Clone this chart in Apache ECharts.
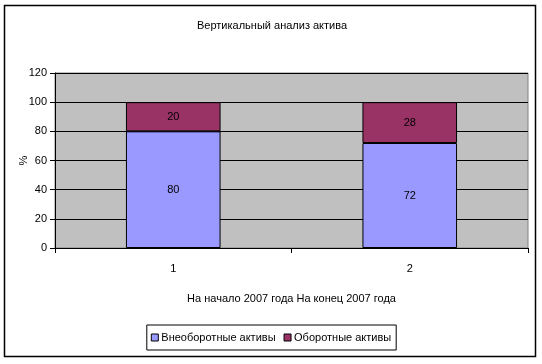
<!DOCTYPE html>
<html><head><meta charset="utf-8">
<script src="https://cdn.jsdelivr.net/npm/echarts@6/dist/echarts.min.js"></script>
<style>html,body{margin:0;padding:0;background:#fff}#c{width:542px;height:364px}</style>
</head><body><div id="c"></div>
<script>
const categories = ['1', '2'];
const nonCurrent = [80, 72];
const current = [20, 28];
const seriesNames = ['Внеоборотные активы', 'Оборотные активы'];
const yTicks = {min: 0, max: 120, interval: 20};
const FONT = '"Liberation Sans Narrow", "Arial Narrow", "Liberation Sans", sans-serif';
const FS = 11;

const chart = echarts.init(document.getElementById('c'));
chart.setOption({
  animation: false,
  textStyle: {fontFamily: FONT, fontSize: FS, color: '#000'},
  graphic: [{type: 'rect', shape: {x: 4.5, y: 5.5, width: 531, height: 351}, style: {fill: 'none', stroke: '#000', lineWidth: 1.5}, silent: true, z: -10}],
  title: {text: 'Вертикальный анализ актива', left: 192, top: 15, textStyle: {fontFamily: FONT, fontSize: FS, fontWeight: 'normal', color: '#000'}},
  grid: {left: 55, right: 14, top: 73, bottom: 116, show: true, backgroundColor: '#C0C0C0', borderColor: '#808080', borderWidth: 1, containLabel: false},
  legend: {bottom: 14, left: 'center', data: seriesNames, icon: 'rect', itemWidth: 7, itemHeight: 7, itemGap: 8, borderColor: '#000', borderWidth: 1, padding: [7, 5, 7, 4],
    textStyle: {fontFamily: FONT, fontSize: FS, color: '#000', padding: [0, 0, 0, -2]},
    itemStyle: {borderColor: '#000', borderWidth: 1}},
  xAxis: {type: 'category', data: categories, name: 'На начало 2007 года На конец 2007 года', nameLocation: 'middle', nameGap: 45, nameMoveOverlap: false,
    nameTextStyle: {fontFamily: FONT, fontSize: FS, color: '#000'},
    axisLine: {lineStyle: {color: '#000'}}, axisTick: {show: true, length: 5, lineStyle: {color: '#000'}},
    axisLabel: {margin: 15, color: '#000', fontFamily: FONT, fontSize: FS}},
  yAxis: {type: 'value', min: yTicks.min, max: yTicks.max, interval: yTicks.interval, name: '%', nameLocation: 'middle', nameGap: 26, nameRotate: 90, nameMoveOverlap: false,
    nameTextStyle: {fontFamily: FONT, fontSize: FS, color: '#000'},
    axisLine: {show: true, lineStyle: {color: '#000'}}, axisTick: {show: true, length: 5, lineStyle: {color: '#000'}},
    axisLabel: {margin: 8, color: '#000', fontFamily: FONT, fontSize: FS},
    splitLine: {show: true, lineStyle: {color: '#000', width: 1}}},
  series: [
    {name: seriesNames[0], type: 'bar', stack: 'a', data: nonCurrent, barWidth: '40%', itemStyle: {color: '#9999FF', borderColor: '#000', borderWidth: 1},
      label: {show: true, position: 'inside', color: '#000', fontFamily: FONT, fontSize: FS}},
    {name: seriesNames[1], type: 'bar', stack: 'a', data: current, barWidth: '40%', itemStyle: {color: '#993366', borderColor: '#000', borderWidth: 1},
      label: {show: true, position: 'inside', color: '#000', fontFamily: FONT, fontSize: FS}}
  ]
});
</script></body></html>
